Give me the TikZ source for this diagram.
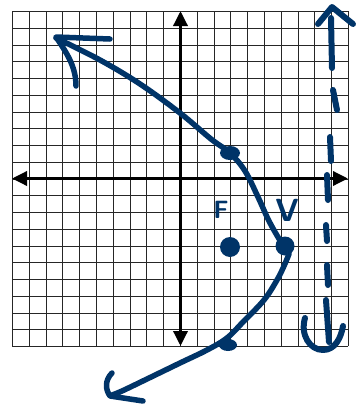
\documentclass[tikz,border=0pt]{standalone}
\usetikzlibrary{arrows.meta}
\definecolor{ink}{RGB}{0,52,104}
\begin{document}
\begin{tikzpicture}[x=1pt,y=-1pt,
  gridline/.style={line width=1.3pt,black!85},
  axis/.style={line width=3.4pt,black,{Triangle[length=15pt,width=14pt]}-{Triangle[length=15pt,width=14pt]}},
  stroke/.style={ink,line width=5.5pt,line cap=round,line join=round},
  dashstroke/.style={ink,line width=6pt,line cap=round,line join=round},
  lbl/.style={ink,font=\sffamily\bfseries,inner sep=0pt}]
\useasboundingbox (0,0) rectangle (358,410);
\fill[white] (0,0) rectangle (358,410);
% grid
\foreach \i in {0,...,20} {
  \pgfmathsetmacro{\gx}{round(12+16.8*\i)+0.5}
  \pgfmathsetmacro{\gy}{round(11+16.75*\i)+0.5}
  \draw[gridline] (\gx,11) -- (\gx,346);
  \draw[gridline] (12,\gy) -- (348,\gy);
}
% axes
\coordinate (ytop) at (180.5,11);
\coordinate (ybot) at (180.5,346);
\coordinate (xl) at (12,178.5);
\coordinate (xr) at (348,178.5);
\draw[axis] (ybot) -- (ytop);
\draw[axis] (xl) -- (xr);
% parabola, upper branch with hand arrowhead
\draw[stroke] plot[smooth,tension=0.6] coordinates {(56,38) (100,60) (140,84) (180,113) (211,139) (230,153) (245,171) (258,197) (269,221) (281,242) (285,246)};
\draw[stroke] (110,39) -- (56,37) .. controls (66,52) and (76,66) .. (76,86);
% parabola, lower branch with hand arrowhead
\draw[stroke] plot[smooth,tension=0.6] coordinates {(289,254) (284,266) (277,280) (264,300) (243,322) (227,338) (207,350) (180,363) (147,379) (122,391) (112,395)};
\draw[stroke] (112,373) .. controls (105,380) and (105,389) .. (110,396) -- (143,401);
% points
\fill[ink] (230,153) ellipse (10 and 7);
\fill[ink] (230,247) circle (10);
\fill[ink] (285,246) circle (9.5);
\fill[ink] (228,345) ellipse (9 and 6);
% labels
\node[lbl,font=\sffamily\bfseries\fontsize{25}{25}\selectfont] (F) at (221,210) {F};
\node[lbl,font=\sffamily\bfseries\fontsize{32}{32}\selectfont] (V) at (287,210) {V};
% directrix
\draw[dashstroke] (331,18) -- (332,68);
\draw[dashstroke] (333,90) -- (337,110);
\draw[dashstroke] (330,137) -- (331,161);
\draw[dashstroke] (327,175) -- (328,200);
\draw[dashstroke] (326,225) -- (327,241);
\draw[dashstroke] (327,265) -- (328,285);
\draw[dashstroke] (326,300) -- (329,342);
\draw[dashstroke] (318,24) -- (332,7) -- (353,24);
\draw[dashstroke] (305,318) .. controls (300,335) and (310,350) .. (323,350) .. controls (335,350) and (341,338) .. (343,326);
\end{tikzpicture}
\end{document}
